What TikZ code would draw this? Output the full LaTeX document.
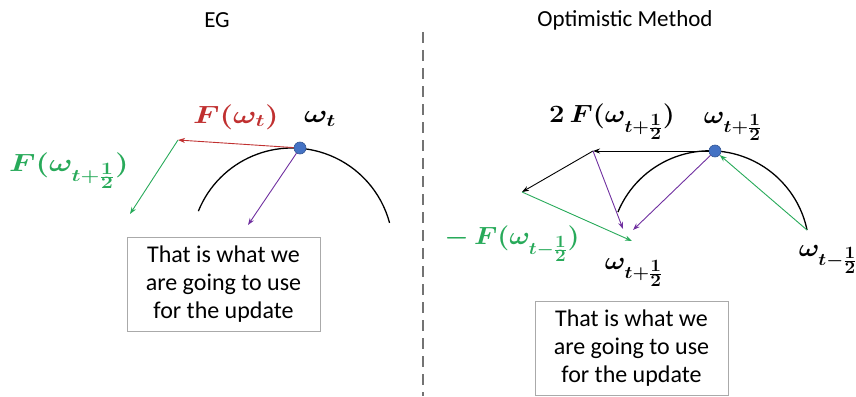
\documentclass[tikz,border=0pt]{standalone}
\usepackage{fontspec}
\usepackage{graphicx}
\setmainfont{Carlito}
\usetikzlibrary{arrows.meta}
\definecolor{egred}{RGB}{192,48,48}
\definecolor{eggreen}{RGB}{40,170,90}
\definecolor{egpurple}{RGB}{112,48,160}
\definecolor{egblue}{RGB}{68,114,196}
\definecolor{boxgray}{RGB}{170,170,170}
\newcommand{\wideL}[1]{\scalebox{1.25}[1]{\boldmath$#1$}}
\newcommand{\wideR}[1]{\scalebox{1.1}[1]{\boldmath$#1$}}
\newcommand{\hf}{\frac{\scriptstyle 1}{\scriptstyle 2}}
\begin{document}
\begin{tikzpicture}[x=1pt,y=-1pt,
  vec/.style={-{Stealth[length=7pt,width=5pt]}, line width=0.9pt},
  arcline/.style={line width=1.3pt, black},
  wdot/.style={circle, fill=egblue, draw=egblue!75!black, line width=0.6pt, inner sep=0pt, minimum size=12pt},
  textbox/.style={draw=boxgray, line width=1pt, align=center, inner sep=0pt,
    font=\fontsize{24}{28}\selectfont, minimum width=193pt, minimum height=94pt},
  title/.style={font=\fontsize{23}{26}\selectfont},
  mlabL/.style={font=\fontsize{26}{30}\selectfont, inner sep=0pt},
  mlabR/.style={font=\fontsize{24}{28}\selectfont, inner sep=0pt},
  divider/.style={draw=black!55, line width=2.5pt, dash pattern=on 11pt off 7pt}
]
\useasboundingbox (0,0) rectangle (856,396);

% titles
\node[title] (t1) at (217,20) {EG};
\node[title] (t2) at (625,20) {Optimistic Method};

% divider
\coordinate (d1) at (423,32);
\coordinate (d2) at (423,396);
\draw[divider] (d1) -- (d2);

% ---------------- left panel: EG
\draw[arcline] (292,249) ++(-158:101) arc[start angle=-158, end angle=-15, radius=101];
\node[wdot] (wt) at (300,148) {};
\coordinate (a1) at (178,140);
\coordinate (a2) at (130,214);
\coordinate (a3) at (248,225);
\draw[vec, egred] (wt) -- (a1);
\draw[vec, eggreen] (a1) -- (a2);
\draw[vec, egpurple] (wt) -- (a3);

\node[mlabL, text=egred] (lFt) at (236,117) {\wideL{F(\omega_t)}};
\node[mlabL] (lwt) at (320,119) {\wideL{\omega_t}};
\node[mlabL, text=eggreen] (lFh) at (69,171) {\wideL{F(\omega_{t+\hf})}};

\node[textbox] (box1) at (223.5,284) {That is what we\\are going to use\\for the update};

% ---------------- right panel: optimistic
\draw[arcline] (709.7,250.2) ++(-157.4:99.4) arc[start angle=-157.4, end angle=-11.7, radius=99.4];
\node[wdot] (wh) at (715,151) {};
\coordinate (b1) at (593,151);
\coordinate (b2) at (522,192);
\coordinate (b3) at (632,241);
\coordinate (b4) at (623,229);
\coordinate (b5) at (633,230);
\coordinate (b6) at (807,230);
\draw[vec, black] (wh) -- (b1);
\draw[vec, black] (b1) -- (b2);
\draw[vec, eggreen] (b2) -- (b3);
\draw[vec, egpurple] (b1) -- (b4);
\draw[vec, egpurple] (wh) -- (b5);
\draw[vec, eggreen] (b6) -- (wh);

\node[mlabR] (r2F) at (612,122) {\wideR{2\,F(\omega_{t+\hf})}};
\node[mlabR] (rwtop) at (733,126) {\wideR{\omega_{t+\hf}}};
\node[mlabR, text=eggreen] (rmF) at (512,244) {\wideR{-\,F(\omega_{t-\hf})}};
\node[mlabR] (rwbot) at (634,272) {\wideR{\omega_{t+\hf}}};
\node[mlabR] (rwprev) at (828,259) {\wideR{\omega_{t-\hf}}};

\node[textbox] (box2) at (631.5,348) {That is what we\\are going to use\\for the update};
\end{tikzpicture}
\end{document}
